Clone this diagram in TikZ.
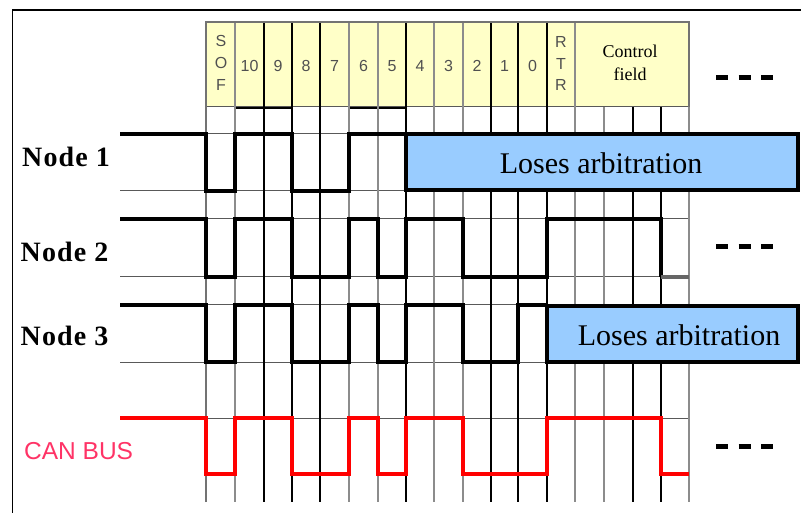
\documentclass[tikz,border=0pt]{standalone}
\usepackage{fontspec}
\setmainfont{Liberation Serif}
\newfontfamily\sansf{Liberation Sans}
\newfontfamily\lblfont[LetterSpace=4]{Liberation Serif}
\definecolor{hdrfill}{RGB}{255,255,200}
\definecolor{boxfill}{RGB}{153,204,255}
\definecolor{canred}{RGB}{255,0,0}
\definecolor{canlbl}{RGB}{255,51,102}
\definecolor{hdrtxt}{RGB}{80,80,80}
\begin{document}
\begin{tikzpicture}[x=1pt,y=-1pt,
  gridk/.style={line width=1.2pt,black},
  gridg/.style={line width=1.2pt,black!45},
  gridh/.style={line width=1pt,black!65},
  sig/.style={line width=4pt,line join=miter,black},
  cansig/.style={line width=4pt,line join=miter,canred},
  losebox/.style={draw=black,line width=4pt,fill=boxfill},
  nodelbl/.style={font=\lblfont\bfseries\fontsize{28}{30}\selectfont,anchor=base west,inner sep=0pt},
  loselbl/.style={font=\fontsize{30}{32}\selectfont,inner sep=0pt},
  hdr/.style={font=\sansf\fontsize{16}{21.7}\selectfont,text=hdrtxt,inner sep=0pt,align=center},
  morebits/.style={line width=5pt,dash pattern=on 12pt off 10.5pt}
]
\useasboundingbox (0,0) rectangle (801,513);
% frame
\draw[line width=1.6pt] (12.5,513) -- (12.5,10) -- (801,10);
% header
\fill[hdrfill] (206,22) rectangle (689,107);
% horizontal grid lines
\foreach \yy in {134,190.7,219,277,305,362,418} {\draw[gridh] (206,\yy) -- (689,\yy);}
\foreach \yy in {190.7,277,362} {\draw[gridh] (120,\yy) -- (206,\yy);}
\draw[gridh] (206,107) -- (689,107);
\draw[line width=2.2pt] (236,108) -- (292,108);
\draw[line width=2.2pt] (350,108) -- (406,108);
% vertical grid lines
\foreach \xx in {206,235,349,378,434,463,575} {\draw[gridg] (\xx,22) -- (\xx,502);}
\foreach \xx in {264,292,320,406,491,518,547} {\draw[gridk] (\xx,22) -- (\xx,502);}
\foreach \xx in {633,661} {\draw[gridk] (\xx,107) -- (\xx,502);}
\draw[gridg] (604,107) -- (604,502);
\draw[gridg] (689,107) -- (689,502);
\draw[line width=1.8pt,black!55] (206,502) -- (206,22) -- (689,22) -- (689,107);
% header texts
\node[hdr] (hsof) at (221,63) {S\\O\\F};
\node[hdr] (h10) at (249.5,66) {10};
\node[hdr] (h9) at (278,66) {9};
\node[hdr] (h8) at (306,66) {8};
\node[hdr] (h7) at (334.5,66) {7};
\node[hdr] (h6) at (363.5,66) {6};
\node[hdr] (h5) at (392,66) {5};
\node[hdr] (h4) at (420,66) {4};
\node[hdr] (h3) at (448.5,66) {3};
\node[hdr] (h2) at (477,66) {2};
\node[hdr] (h1) at (504.5,66) {1};
\node[hdr] (h0) at (532.5,66) {0};
\node[hdr] (hrtr) at (561,63.5) {R\\T\\R};
\node[font=\fontsize{18}{23}\selectfont,inner sep=0pt,align=center] (hctl) at (630,63) {Control\\field};
\draw[morebits] (716,78) -- (773,78);
% Node 1
\draw[sig] (120,134) -- (206,134) -- (206,190.7) -- (235,190.7) -- (235,134) -- (292,134) -- (292,190.7) -- (349,190.7) -- (349,134) -- (406,134);
\draw[losebox] (406,134.5) rectangle (798,190.5);
\node[loselbl] (lose1) at (601,163) {Loses arbitration};
\node[nodelbl] (lbl1) at (22,166.7) {Node 1};
% Node 2
\draw[sig] (120,219) -- (206,219) -- (206,277) -- (235,277) -- (235,219) -- (292,219) -- (292,277) -- (349,277) -- (349,219) -- (378,219) -- (378,277) -- (406,277) -- (406,219) -- (463,219) -- (463,277) -- (547,277) -- (547,219) -- (661,219) -- (661,277);
\draw[line width=4pt,black!60] (661,277) -- (689,277);
\node[nodelbl] (lbl2) at (20.5,261.7) {Node 2};
\draw[morebits] (716,246.5) -- (773,246.5);
% Node 3
\draw[sig] (120,305) -- (206,305) -- (206,362) -- (235,362) -- (235,305) -- (292,305) -- (292,362) -- (349,362) -- (349,305) -- (378,305) -- (378,362) -- (406,362) -- (406,305) -- (463,305) -- (463,362) -- (518,362) -- (518,305) -- (547,305);
\draw[losebox] (547,306) rectangle (798,361.5);
\node[loselbl] (lose3) at (679,335) {Loses arbitration};
\node[nodelbl] (lbl3) at (20.5,345.7) {Node 3};
% CAN bus
\draw[cansig] (120,418) -- (206,418) -- (206,474) -- (235,474) -- (235,418) -- (292,418) -- (292,474) -- (349,474) -- (349,418) -- (378,418) -- (378,474) -- (406,474) -- (406,418) -- (463,418) -- (463,474) -- (547,474) -- (547,418) -- (661,418) -- (661,474) -- (689,474);
\node[font=\sansf\fontsize{24.5}{26}\selectfont,text=canlbl,anchor=base west,inner sep=0pt] (lblcan) at (24,459) {CAN BUS};
\draw[morebits] (716,446.5) -- (773,446.5);
\end{tikzpicture}
\end{document}
